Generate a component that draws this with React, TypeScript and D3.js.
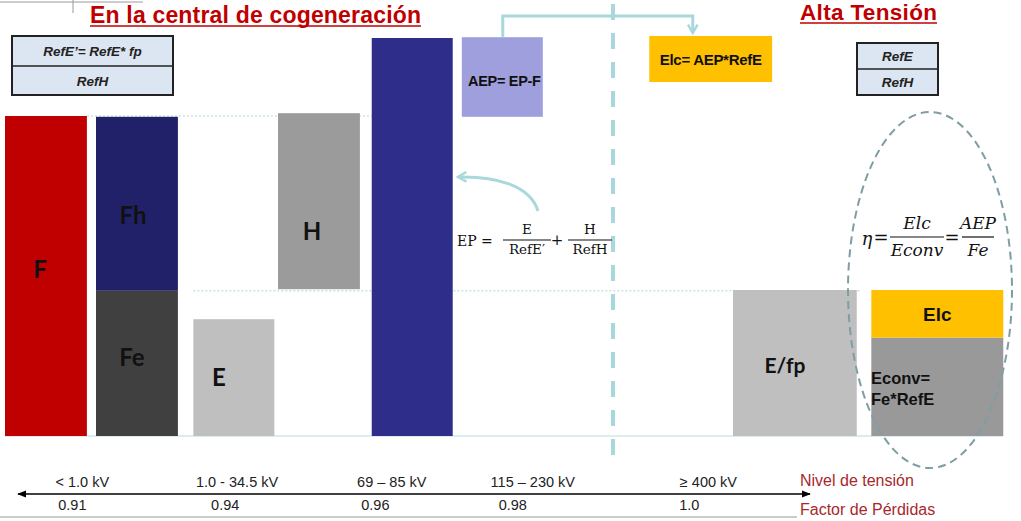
import React from "react";
import * as d3 from "d3";

// bars: col = column position, w = width in columns, y0/y1 = energy units
const bars = [
  { id: "F", col: 0, w: 0.9, y0: 0, y1: 80, fill: "#c00000" },
  { id: "Fe", col: 1, w: 0.9, y0: 0, y1: 36.3, fill: "#404040" },
  { id: "Fh", col: 1, w: 0.9, y0: 36.3, y1: 79.8, fill: "#21216a" },
  { id: "E", col: 2.07, w: 0.89, y0: 0, y1: 29.2, fill: "#bfbfbf" },
  { id: "H", col: 3.0, w: 0.9, y0: 36.7, y1: 80.7, fill: "#9b9b9b" },
  { id: "EP", col: 4.03, w: 0.89, y0: 0, y1: 99.5, fill: "#2e2e8a" },
  { id: "AEP", col: 5.02, w: 0.89, y0: 79.8, y1: 99.7, fill: "#9f9fde" },
  { id: "ElcBox", col: 7.08, w: 1.35, y0: 88.5, y1: 100, fill: "#ffc000" },
  { id: "Efp", col: 8.0, w: 1.36, y0: 0, y1: 36.5, fill: "#bfbfbf" },
  { id: "Econv", col: 9.52, w: 1.45, y0: 0, y1: 24.6, fill: "#999999" },
  { id: "Elc", col: 9.52, w: 1.45, y0: 24.6, y1: 36.5, fill: "#ffc000" },
];

const voltageLevels = ["< 1.0 kV", "1.0 -  34.5 kV", "69 – 85 kV", "115 – 230 kV", "≥ 400 kV"];
const lossFactors = ["0.91", "0.94", "0.96", "0.98", "1.0"];
const levelCols = [0.85, 2.55, 4.25, 5.8, 7.73];
const factorCols = [0.74, 2.42, 4.07, 5.58, 7.52];

const W = 1021;
const H = 521;

const x = d3.scaleLinear().domain([0, 1]).range([5, 96]);
const y = d3.scaleLinear().domain([0, 100]).range([436, 36]);

const bar = (id: string) => bars.find((b) => b.id === id)!;

const teal = "#a9d8dc";
const red = "#c00000";
const sans = "Liberation Sans, Arial, sans-serif";
const calib = "Lato, sans-serif";
const serif = "DejaVu Serif, serif";

function Frac({ cx, top, bottom, lineY, w, size, italic, gapTop, gapBottom }: any) {
  return (
    <g fontFamily={serif} fontSize={size} fontStyle={italic ? "italic" : "normal"} textAnchor="middle" fill="#111">
      <text x={cx} y={lineY - gapTop}>{top}</text>
      <line x1={cx - w / 2} x2={cx + w / 2} y1={lineY} y2={lineY} stroke="#111" strokeWidth={1.2} />
      <text x={cx} y={lineY + gapBottom}>{bottom}</text>
    </g>
  );
}

export default function App() {
  const ep = bar("EP");
  const aep = bar("AEP");
  const elcBox = bar("ElcBox");
  const econv = bar("Econv");
  const connX = x(aep.col + 0.45);
  const connEnd = x(elcBox.col + 0.5) - 2;
  const refLines = [
    { y: bar("F").y1, x0: x(0.9), x1: x(ep.col) },
    { y: bar("Fe").y1, x0: x(2.07), x1: x(9.4) },
  ];
  const levelY = 487;
  const factorY = 510;
  const arrowY = 494;

  return (
    <svg width={W} height={H} style={{ position: "absolute", left: 0, top: 0, background: "#fff" }}>
      <defs>
        <marker id="ah" viewBox="0 0 10 10" refX="9" refY="5" markerWidth="6" markerHeight="6" orient="auto-start-reverse">
          <path d="M0,1 L10,5 L0,9 z" fill="#000" />
        </marker>
        <marker id="tealHead" viewBox="0 0 10 10" refX="8" refY="5" markerWidth="4" markerHeight="4" orient="auto">
          <path d="M1,1 L8,5 L1,9" fill="none" stroke={teal} strokeWidth="2" />
        </marker>
      </defs>

      {/* fragment top-left */}
      <line x1={0} x2={143} y1={2} y2={2} stroke="#9a9a9a" strokeWidth={1} />
      <line x1={73} x2={73} y1={0} y2={13} stroke="#9a9a9a" strokeWidth={1} />

      {/* titles */}
      <text x={90} y={23} fontFamily={sans} fontWeight="bold" fontSize={23} textLength={331} fill={red}>En la central de cogeneración</text>
      <line x1={90} x2={421} y1={26} y2={26} stroke={red} strokeWidth={1.5} />
      <text x={800} y={20} fontFamily={sans} fontWeight="bold" fontSize={22.5} textLength={137} fill={red}>Alta Tensión</text>
      <line x1={800} x2={937} y1={23} y2={23} stroke={red} strokeWidth={1.5} />

      {/* reference boxes */}
      {[
        { x0: 12, x1: 173, t: 36, m: 66, b: 95, a: "RefE’= RefE* fp", c: "RefH" },
        { x0: 857, x1: 938, t: 43, m: 69, b: 95, a: "RefE", c: "RefH" },
      ].map((bx, i) => (
        <g key={i}>
          <rect x={bx.x0} y={bx.t} width={bx.x1 - bx.x0} height={bx.b - bx.t} fill="#dce6f2" stroke="#222" strokeWidth={2} />
          <line x1={bx.x0} x2={bx.x1} y1={bx.m} y2={bx.m} stroke="#222" strokeWidth={1.5} />
          <g fontFamily={sans} fontWeight="bold" fontStyle="italic" fontSize={13.5} fill="#222" textAnchor="middle">
            <text x={(bx.x0 + bx.x1) / 2} y={(bx.t + bx.m) / 2 + 5}>{bx.a}</text>
            <text x={(bx.x0 + bx.x1) / 2} y={(bx.m + bx.b) / 2 + 5}>{bx.c}</text>
          </g>
        </g>
      ))}

      {/* dotted reference lines */}
      {refLines.map((l, i) => (
        <line key={i} x1={l.x0} x2={l.x1} y1={y(l.y)} y2={y(l.y)} stroke={teal} strokeWidth={1} strokeDasharray="2,2" />
      ))}

      {/* baseline */}
      <line x1={x(0)} x2={1003} y1={y(0)} y2={y(0)} stroke="#cfe8ea" strokeWidth={1.5} />

      {/* bars */}
      {bars.map((b) => (
        <rect key={b.id} x={x(b.col)} y={y(b.y1)} width={x(b.col + b.w) - x(b.col)} height={y(b.y0) - y(b.y1)} fill={b.fill} />
      ))}

      {/* bar labels */}
      <g fontFamily={calib} fontWeight="bold" fill="#111" fontSize={24} textAnchor="middle">
        <text x={40} y={278}>F</text>
        <text x={133} y={224}>Fh</text>
        <text x={132} y={366}>Fe</text>
        <text x={219} y={386}>E</text>
        <text x={312} y={240}>H</text>
        <text x={785} y={373} fontSize={21}>E/fp</text>
      </g>
      <text x={x(econv.col + econv.w / 2)} y={321} fontFamily={sans} fontWeight="bold" fontSize={19} textAnchor="middle" fill="#111">Elc</text>
      <g fontFamily={sans} fontWeight="bold" fontSize={16.5} fill="#111">
        <text x={871} y={384}>Econv=</text>
        <text x={871} y={405}>Fe*RefE</text>
      </g>
      <text x={468} y={86} fontFamily={sans} fontWeight="bold" fontSize={14.5} letterSpacing={-0.3} fill="#111">AEP= EP-F</text>
      <text x={x(elcBox.col + elcBox.w / 2)} y={65} fontFamily={sans} fontWeight="bold" fontSize={15} letterSpacing={-0.3} textAnchor="middle" fill="#111">Elc= AEP*RefE</text>

      {/* dashed separator */}
      <line x1={613} x2={613} y1={4} y2={468} stroke={teal} strokeWidth={4} strokeDasharray="16,13" />

      {/* connector */}
      <path d={`M${connX},${y(aep.y1)} V16 H${connEnd} V33`} fill="none" stroke={teal} strokeWidth={3} markerEnd="url(#tealHead)" />
      <path d="M538,211 C530,185 495,176 458,177" fill="none" stroke={teal} strokeWidth={3} markerEnd="url(#tealHead)" />

      {/* EP formula */}
      <text x={457} y={246} fontFamily={serif} fontSize={14} fill="#111">EP =</text>
      <Frac cx={527} top="E" bottom="RefE′" lineY={240} w={48} size={13.5} gapTop={6} gapBottom={14} />
      <text x={557} y={245} fontFamily={serif} fontSize={15} textAnchor="middle" fill="#111">+</text>
      <Frac cx={590} top="H" bottom="RefH" lineY={240} w={44} size={13.5} gapTop={6} gapBottom={14} />

      {/* efficiency formula */}
      <text x={867} y={245} fontFamily={serif} fontStyle="italic" fontSize={18} textAnchor="middle" fill="#111">η</text>
      <text x={881} y={244} fontFamily={serif} fontSize={18} textAnchor="middle" fill="#111">=</text>
      <Frac cx={917} top="Elc" bottom="Econv" lineY={237} w={54} size={17} italic gapTop={8} gapBottom={19} />
      <text x={952} y={244} fontFamily={serif} fontSize={18} textAnchor="middle" fill="#111">=</text>
      <Frac cx={978} top="AEP" bottom="Fe" lineY={237} w={32} size={17} italic gapTop={8} gapBottom={19} />

      {/* ellipse */}
      <ellipse cx={930} cy={290} rx={82} ry={178} fill="none" stroke="#7f9ea3" strokeWidth={2} strokeDasharray="8,5" />

      {/* bottom axis */}
      <line x1={18} x2={810} y1={arrowY} y2={arrowY} stroke="#000" strokeWidth={1.5} markerStart="url(#ah)" markerEnd="url(#ah)" />
      <line x1={0} x2={797} y1={517} y2={517} stroke="#bbb" strokeWidth={1.5} />
      <g fontFamily={sans} fontSize={14.5} fill="#222" textAnchor="middle">
        {voltageLevels.map((v, i) => (
          <text key={v} x={x(levelCols[i])} y={levelY}>{v}</text>
        ))}
        {lossFactors.map((v, i) => (
          <text key={v} x={x(factorCols[i])} y={factorY}>{v}</text>
        ))}
      </g>
      <g fontFamily={sans} fontSize={16} fill="#a8282c">
        <text x={800} y={486}>Nivel de tensión</text>
        <text x={800} y={515}>Factor de Pérdidas</text>
      </g>
    </svg>
  );
}
